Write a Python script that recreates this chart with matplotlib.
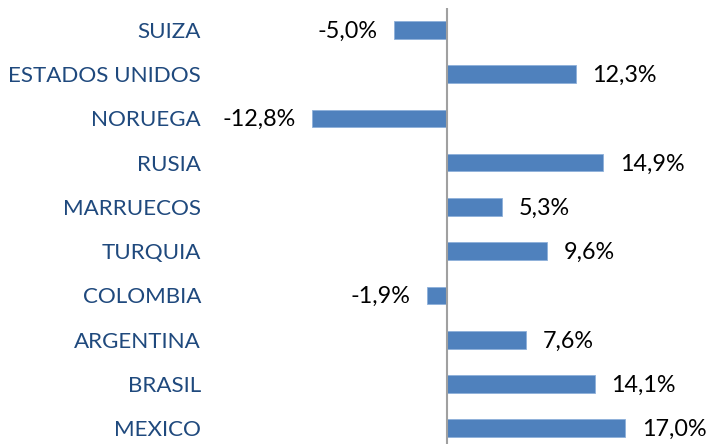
import matplotlib
matplotlib.use("Agg")
import matplotlib.pyplot as plt

paises = ["SUIZA", "ESTADOS UNIDOS", "NORUEGA", "RUSIA", "MARRUECOS",
          "TURQUIA", "COLOMBIA", "ARGENTINA", "BRASIL", "MEXICO"]
variacion = [-5.0, 12.3, -12.8, 14.9, 5.3, 9.6, -1.9, 7.6, 14.1, 17.0]

plt.rcParams['font.family'] = ['Lato', 'DejaVu Sans']

fig = plt.figure(figsize=(7.06, 4.44), dpi=100)
ax = fig.add_axes([210 / 706, -0.0142, 496 / 706, 0.9968])

pos = list(range(len(paises)))
ax.barh(pos, variacion, height=0.40, color="#4F81BD",
        edgecolor="#8EB0DA", linewidth=0.6, zorder=2)
ax.axvline(0, color="#A0A0A0", lw=1.5, zorder=3)

for y, v in zip(pos, variacion):
    txt = f"{v:.1f}".replace(".", ",") + "%"
    ax.annotate(txt, (v, y), xytext=(12 if v >= 0 else -12, -1),
                textcoords="offset points", va="center",
                ha="left" if v >= 0 else "right",
                fontsize=16.8, color="black")

ax.set_xlim(-22.52, 24.71)
ax.set_ylim(len(paises) - 0.5, -0.5)
ax.set_yticks(pos)
ax.set_yticklabels(paises, fontsize=16.1, color="#1F497D")
ax.tick_params(axis="y", length=0, pad=6.5)
ax.set_xticks([])
for sp in ax.spines.values():
    sp.set_visible(False)

fig.savefig("out.png", dpi=100)
